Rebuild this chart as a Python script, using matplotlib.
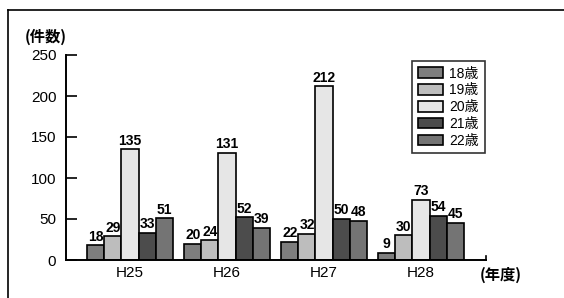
import matplotlib.pyplot as plt
import numpy as np

plt.rcParams['font.family'] = ['Liberation Sans', 'Noto Sans CJK JP', 'DejaVu Sans']

years = ["H25", "H26", "H27", "H28"]
ages = ["18歳", "19歳", "20歳", "21歳", "22歳"]
counts = {
    "18歳": [18, 20, 22, 9],
    "19歳": [29, 24, 32, 30],
    "20歳": [135, 131, 212, 73],
    "21歳": [33, 52, 50, 54],
    "22歳": [51, 39, 48, 45],
}
colors = ["#7e7e7e", "#bdbdbd", "#e6e6e6", "#4c4c4c", "#747474"]

fig = plt.figure(figsize=(5.64, 2.98), dpi=100)
ax = fig.add_axes([66 / 564, 1 - 260 / 298, 420 / 564, 205 / 298])

x = np.arange(len(years))
w = 0.176
for i, age in enumerate(ages):
    pos = x + (i - 2) * w
    bars = ax.bar(pos, counts[age], w, color=colors[i], edgecolor="black",
                  linewidth=1.2, label=age)
    for b, v in zip(bars, counts[age]):
        ax.text(b.get_x() + b.get_width() / 2, v + 2, str(v), ha="center",
                va="bottom", fontsize=10, fontweight="bold")

ax.set_xlim(-0.66, 3.67)
ax.set_ylim(0, 250)
ax.set_yticks([0, 50, 100, 150, 200, 250])
ax.set_yticklabels(["0", "50", "100", "150", "200", "250"], fontsize=11)
ax.set_xticks(x)
ax.set_xticklabels(years, fontsize=11)
ax.tick_params(axis="y", direction="in", length=8, width=1.2, pad=7)
ax.tick_params(axis="x", length=0, pad=4)
for s in ["top", "right"]:
    ax.spines[s].set_visible(False)
for s in ["left", "bottom"]:
    ax.spines[s].set_linewidth(1.4)
ax.plot([3.67, 3.67], [0, 5], color="black", lw=1.2, clip_on=False)

fig.text(25 / 564, 1 - 37 / 298, "(件数)", ha="left", va="center",
         fontsize=11, fontweight="bold", family=["Noto Sans CJK JP"])
fig.text(480 / 564, 1 - 275 / 298, "(年度)", ha="left", va="center",
         fontsize=11, fontweight="bold", family=["Noto Sans CJK JP"])

leg = ax.legend(loc="upper left", bbox_to_anchor=(346 / 420, 1 - 6 / 205),
                prop={"family": ["Liberation Sans", "Noto Sans CJK JP"], "size": 10},
                frameon=True, fancybox=False, edgecolor="black",
                handlelength=1.8, handleheight=0.8, labelspacing=0.2,
                borderpad=0.4, handletextpad=0.5, borderaxespad=0)
leg.get_frame().set_linewidth(1.2)

# outer frame
fig.add_artist(plt.Line2D([8 / 564, 8 / 564], [0, 1 - 10 / 298], color="black", lw=1.2))
fig.add_artist(plt.Line2D([8 / 564, 1], [1 - 10 / 298, 1 - 10 / 298], color="black", lw=1.2))

fig.savefig("out.png", dpi=100)
